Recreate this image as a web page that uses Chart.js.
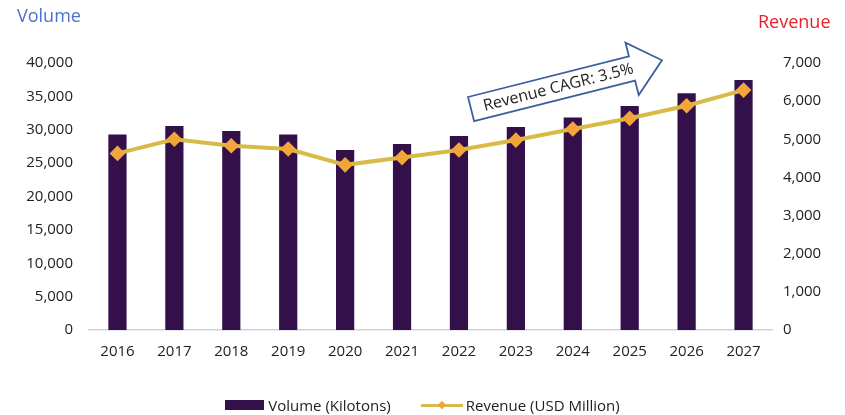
<!DOCTYPE html>
<html>
<head>
<meta charset="utf-8">
<script src="https://cdn.jsdelivr.net/npm/chart.js@4"></script>
<style>
  body { margin: 0; background: #fff; font-family: "Open Sans", sans-serif; }
  .wrap { position: relative; width: 845px; height: 415px; }
  .axis-title { position: absolute; font-size: 18px; line-height: 1; }
  #volTitle { left: 17px; top: 6px; color: #4a72c8; }
  #revTitle { left: 758px; top: 12px; color: #e8202a; }
  .legend { position: absolute; top: 395px; left: 0; width: 845px; display: flex; justify-content: center; font-size: 15px; color: #222; }
  .legend .item { display: flex; align-items: center; margin: 0 15px; }
  .swatch-bar { width: 39px; height: 10px; background: #33104a; margin-right: 4px; }
  .swatch-line { position: relative; width: 42px; height: 3px; background: #d8bb47; margin-right: 3px; }
  .swatch-line::after {
    content: ""; position: absolute; left: 18px; top: -2px; width: 6px; height: 6px;
    background: #f2a53a; transform: rotate(45deg);
  }
</style>
</head>
<body>
<div class="wrap">
  <canvas id="chart" width="845" height="415"></canvas>
  <div class="axis-title" id="volTitle">Volume</div>
  <div class="axis-title" id="revTitle">Revenue</div>
  <div class="legend">
    <div class="item"><span class="swatch-bar"></span>Volume (Kilotons)</div>
    <div class="item"><span class="swatch-line"></span>Revenue (USD Million)</div>
  </div>
</div>
<script>
const years = ["2016", "2017", "2018", "2019", "2020", "2021", "2022", "2023", "2024", "2025", "2026", "2027"];
const volume = [29300, 30550, 29800, 29300, 26950, 27850, 29050, 30400, 31850, 33550, 35450, 37450];
const revenue = [4630, 5000, 4830, 4745, 4330, 4520, 4720, 4980, 5270, 5550, 5880, 6290];
const cagrText = "Revenue CAGR: 3.5%";

const barColor = "#33104a";
const lineColor = "#d8bb47";
const markerColor = "#f2a53a";
const tickFont = { family: "Open Sans", size: 15 };

// blue outlined arrow with the CAGR note, tilted upward
const cagrArrow = {
  id: "cagrArrow",
  afterDatasetsDraw(chart) {
    const ctx = chart.ctx;
    ctx.save();
    ctx.translate(468, 97);
    ctx.rotate(-14.2 * Math.PI / 180);
    ctx.beginPath();
    ctx.moveTo(0, 0);
    ctx.lineTo(166, 0);
    ctx.lineTo(166, -14);
    ctx.lineTo(197, 12);
    ctx.lineTo(166, 40);
    ctx.lineTo(166, 25);
    ctx.lineTo(0, 25);
    ctx.closePath();
    ctx.fillStyle = "#fff";
    ctx.fill();
    ctx.lineWidth = 1.8;
    ctx.strokeStyle = "#3d5f9e";
    ctx.stroke();
    ctx.fillStyle = "#222";
    ctx.font = "16px 'Open Sans'";
    ctx.textAlign = "center";
    ctx.textBaseline = "middle";
    ctx.fillText(cagrText, 90, 13);
    ctx.restore();
  }
};

new Chart(document.getElementById("chart"), {
  type: "bar",
  data: {
    labels: years,
    datasets: [
      {
        type: "line",
        label: "Revenue (USD Million)",
        data: revenue,
        yAxisID: "yRev",
        borderColor: lineColor,
        borderWidth: 4,
        pointStyle: "rectRot",
        pointRadius: 5,
        pointBackgroundColor: markerColor,
        pointBorderColor: markerColor,
        tension: 0,
        order: 0
      },
      {
        label: "Volume (Kilotons)",
        data: volume,
        yAxisID: "yVol",
        backgroundColor: barColor,
        barPercentage: 0.64,
        categoryPercentage: 0.5,
        order: 1
      }
    ]
  },
  options: {
    responsive: false,
    animation: false,
    layout: { padding: { top: 63, bottom: 0, left: 0, right: 0 } },
    plugins: { legend: { display: false }, tooltip: { enabled: false } },
    scales: {
      x: {
        grid: { display: false, drawTicks: false },
        border: { display: true, color: "#d3cfe0", width: 1.5 },
        ticks: { font: tickFont, color: "#222", padding: 13 },
        afterFit(scale) { scale.height = 85; }
      },
      yVol: {
        position: "left",
        min: 0, max: 40000,
        grid: { display: false, drawTicks: false },
        border: { display: false },
        ticks: {
          stepSize: 5000, font: tickFont, color: "#222", padding: 16,
          callback: (v) => v.toLocaleString("en-US")
        },
        afterFit(scale) { scale.width = 89; }
      },
      yRev: {
        position: "right",
        min: 0, max: 7000,
        grid: { display: false, drawTicks: false },
        border: { display: false },
        ticks: {
          stepSize: 1000, font: tickFont, color: "#222", padding: 11,
          callback: (v) => v.toLocaleString("en-US")
        },
        afterFit(scale) { scale.width = 73; }
      }
    }
  },
  plugins: [cagrArrow]
});
</script>
</body>
</html>
